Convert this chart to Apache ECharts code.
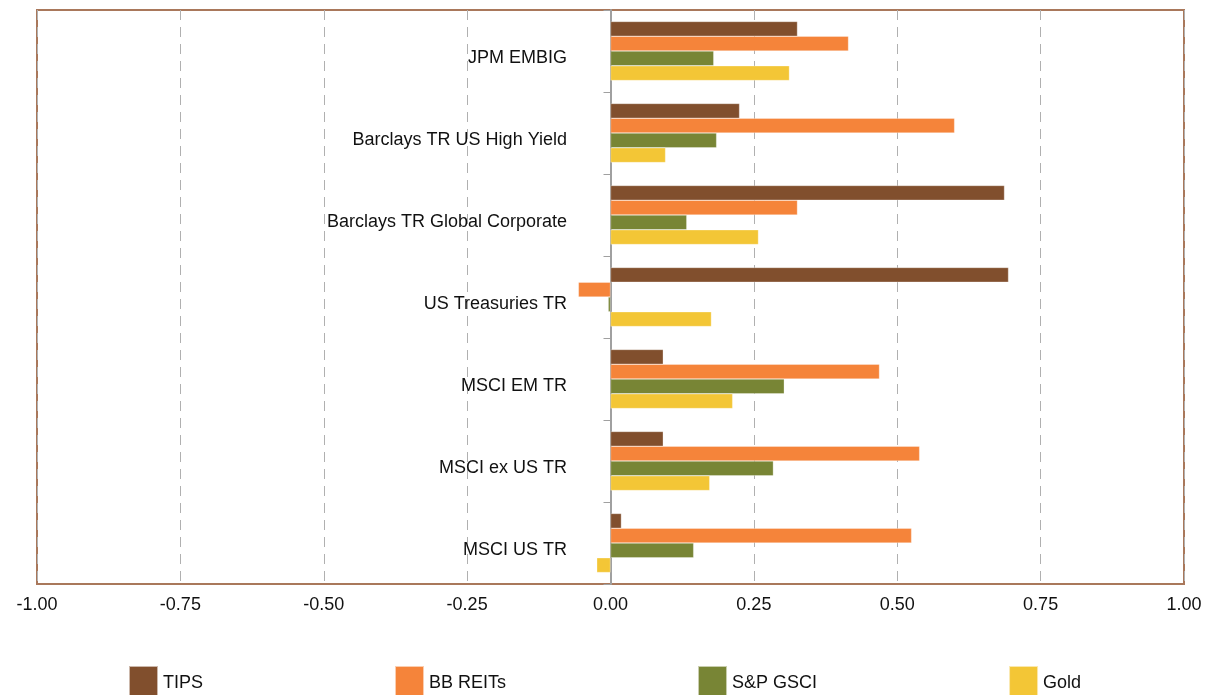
<!DOCTYPE html>
<html>
<head>
<meta charset="utf-8">
<script src="https://cdn.jsdelivr.net/npm/echarts@6/dist/echarts.min.js"></script>
<style>
  html, body { margin: 0; padding: 0; background: #fff; }
  #chart { width: 1215px; height: 695px; }
</style>
</head>
<body>
<div id="chart"></div>
<script>
// categories bottom -> top
var categories = ['MSCI US TR', 'MSCI ex US TR', 'MSCI EM TR', 'US Treasuries TR',
  'Barclays TR Global Corporate', 'Barclays TR US High Yield', 'JPM EMBIG'];
var tips   = [0.019, 0.092, 0.092, 0.694, 0.687, 0.225, 0.326];
var reits  = [0.525, 0.539, 0.469, -0.056, 0.326, 0.600, 0.415];
var gsci   = [0.145, 0.284, 0.303, -0.004, 0.133, 0.185, 0.180];
var gold   = [-0.024, 0.173, 0.213, 0.176, 0.258, 0.096, 0.312];
var xTicks = [-1, -0.75, -0.5, -0.25, 0, 0.25, 0.5, 0.75, 1];

function initChart() {
  var chart = echarts.init(document.getElementById('chart'));
  var bar = function (name, data, color) {
    return {
      name: name,
      type: 'bar',
      data: data,
      barGap: '0%',
      barCategoryGap: '28%',
      itemStyle: { color: color, borderColor: 'rgba(255,255,255,0.6)', borderWidth: 0.5 }
    };
  };
  var option = {
    animation: false,
    textStyle: { fontFamily: 'Liberation Sans, Arial, sans-serif' },
    grid: {
      left: 37, right: 31, top: 10, bottom: 111,
      containLabel: false, outerBoundsMode: 'none',
      show: true, borderColor: '#a9785b', borderWidth: 2
    },
    legend: {
      data: ['TIPS', 'BB REITs', 'S&P GSCI', 'Gold'],
      left: 123, top: 660,
      icon: 'rect',
      itemWidth: 29, itemHeight: 35,
      itemGap: 191,
      textStyle: { fontSize: 18, color: '#111', padding: [10, 0, 0, 0] }
    },
    xAxis: {
      type: 'value',
      min: -1, max: 1, interval: 0.25,
      axisLine: { show: false },
      axisTick: { show: false },
      axisLabel: {
        fontSize: 18, color: '#111', margin: 12,
        formatter: function (v) { return v.toFixed(2); }
      },
      splitLine: { show: true, lineStyle: { color: '#b0b0b0', type: [10, 7], width: 1 } }
    },
    yAxis: {
      type: 'category',
      data: categories,
      axisLine: { onZero: true, lineStyle: { color: '#a0a0a0', width: 2 } },
      axisTick: { show: true, length: 7, lineStyle: { color: '#a0a0a0' } },
      // labels sit just left of the zero line, not at the grid edge
      axisLabel: {
        fontSize: 18, color: '#111', margin: -530, align: 'right',
        verticalAlign: 'top', lineHeight: 14
      }
    },
    series: [
      bar('TIPS', tips, '#814f2d'),
      bar('BB REITs', reits, '#f5843a'),
      bar('S&P GSCI', gsci, '#788535'),
      bar('Gold', gold, '#f3c636')
    ]
  };
  chart.setOption(option);
}
initChart();
</script>
</body>
</html>
